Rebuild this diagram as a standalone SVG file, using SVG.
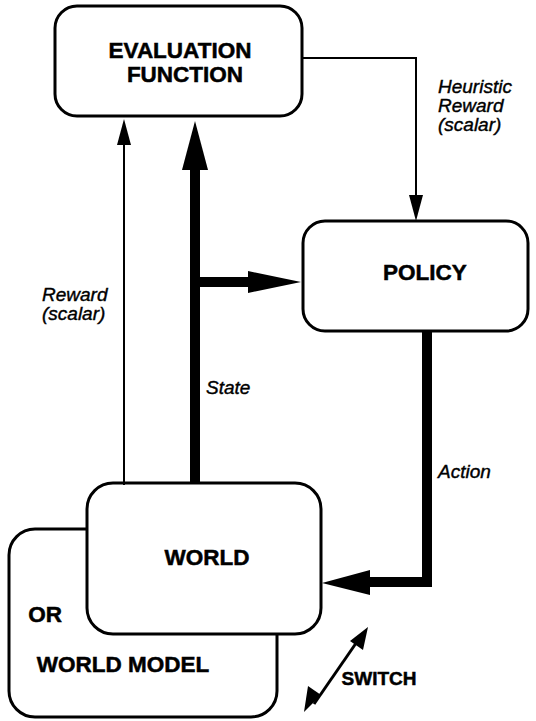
<svg xmlns="http://www.w3.org/2000/svg" width="536" height="721" viewBox="0 0 536 721">
<style>
.box{fill:#fff;stroke:#000;stroke-width:3}
.t{font-family:"Liberation Sans",Arial,sans-serif;font-weight:bold;font-size:22.5px;fill:#000;stroke:#000;stroke-width:0.5;text-anchor:middle}
.l{font-family:"Liberation Sans",Arial,sans-serif;font-style:italic;font-size:19px;fill:#000;stroke:#000;stroke-width:0.4}
.thin{stroke:#000;stroke-width:2;fill:none}
.thick{stroke:#000;stroke-width:10;fill:none}
.head{fill:#000}
</style>
<rect width="536" height="721" fill="#fff"/>
<g id="evaluation-function">
<rect class="box" x="55" y="6" width="247" height="110" rx="22"/>
<text class="t" x="180" y="58">EVALUATION</text>
<text class="t" x="185" y="82">FUNCTION</text>
</g>
<g id="policy">
<rect class="box" x="303" y="221" width="225" height="110" rx="22"/>
<text class="t" x="425" y="280">POLICY</text>
</g>
<g id="world-model">
<rect class="box" x="9" y="529" width="268" height="188" rx="26"/>
<text class="t" x="45" y="622">OR</text>
<text class="t" x="123" y="672">WORLD MODEL</text>
</g>
<g id="world">
<rect class="box" x="87" y="483" width="234" height="151" rx="26"/>
<text class="t" x="207" y="565">WORLD</text>
</g>
<g id="connectors">
<polyline class="thin" points="302,58 416,58 416,197"/>
<polygon class="head" points="409,195 423,195 416,221"/>
<line class="thin" x1="124" y1="485" x2="124" y2="143"/>
<polygon class="head" points="117,145 131,145 124,119"/>
<line class="thick" x1="195" y1="484" x2="195" y2="168"/>
<polygon class="head" points="182,170 208,170 195,121"/>
<line class="thick" x1="195" y1="282" x2="250" y2="282"/>
<polygon class="head" points="248,271 248,293 301,282"/>
<polyline class="thick" points="427,331 427,582 368,582"/>
<polygon class="head" points="370,570 370,595 322,583"/>
<line x1="314" y1="704" x2="361" y2="636" stroke="#000" stroke-width="3"/>
<polygon class="head" points="368,627 363,650 350,641"/>
<polygon class="head" points="304,712 321,695 308,686"/>
</g>
<g id="labels">
<text class="l" x="438" y="93">Heuristic</text>
<text class="l" x="438" y="112">Reward</text>
<text class="l" x="438" y="131">(scalar)</text>
<text class="l" x="42" y="301">Reward</text>
<text class="l" x="42" y="320">(scalar)</text>
<text class="l" x="206" y="394">State</text>
<text class="l" x="438" y="478">Action</text>
<text class="t" x="379" y="685" style="font-size:19px">SWITCH</text>
</g>
</svg>
